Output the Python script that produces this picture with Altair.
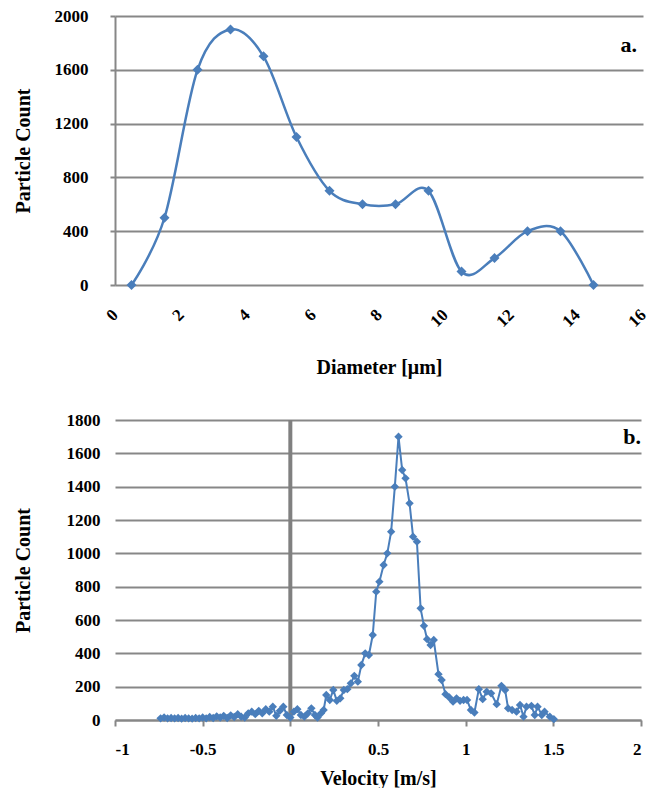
import altair as alt
import pandas as pd

# ---- data ----
diam = [0.5, 1.5, 2.5, 3.5, 4.5, 5.5, 6.5, 7.5, 8.5, 9.5, 10.5, 11.5, 12.5, 13.5, 14.5]
diam_count = [0, 500, 1600, 1900, 1700, 1100, 700, 600, 600, 700, 100, 200, 400, 400, 0]

vel = [-0.74, -0.72, -0.70, -0.68, -0.66, -0.64, -0.62, -0.60, -0.58, -0.56,
       -0.54, -0.52, -0.50, -0.48, -0.46, -0.44, -0.42, -0.40, -0.38, -0.36,
       -0.34, -0.32, -0.30, -0.28, -0.26, -0.24, -0.22, -0.20, -0.18, -0.16,
       -0.14, -0.12, -0.10, -0.08, -0.06, -0.04, -0.02, 0.00, 0.02, 0.04,
       0.06, 0.08, 0.10, 0.12, 0.14, 0.155, 0.175, 0.19, 0.205, 0.225,
       0.245, 0.265, 0.285, 0.305, 0.325, 0.345, 0.365, 0.385, 0.405, 0.427,
       0.448, 0.47, 0.49, 0.508, 0.532, 0.553, 0.575, 0.596, 0.617, 0.638,
       0.657, 0.68, 0.70, 0.722, 0.743, 0.762, 0.78, 0.80, 0.818, 0.845,
       0.863, 0.885, 0.907, 0.928, 0.948, 0.968, 0.988, 1.008, 1.03, 1.05,
       1.075, 1.097, 1.12, 1.145, 1.177, 1.204, 1.225, 1.242, 1.265, 1.29,
       1.31, 1.33, 1.347, 1.375, 1.394, 1.41, 1.434, 1.45, 1.48, 1.503]
vel_count = [10, 15, 10, 12, 10, 12, 8, 12, 10, 8,
             12, 10, 15, 10, 18, 12, 22, 15, 25, 12,
             28, 18, 35, 20, 15, 40, 50, 35, 55, 40,
             65, 50, 80, 25, 55, 80, 30, 15, 50, 65,
             30, 20, 40, 70, 30, 15, 40, 60, 150, 120,
             180, 115, 130, 180, 185, 220, 265, 230, 330, 400,
             390, 510, 770, 830, 930, 1000, 1130, 1400, 1700, 1500,
             1450, 1300, 1100, 1070, 670, 565, 485, 450, 480, 275,
             240, 155, 135, 110, 130, 115, 120, 120, 60, 45,
             185, 125, 170, 160, 95, 205, 180, 70, 60, 50,
             90, 20, 80, 85, 30, 80, 30, 50, 20, 5]

diam_ticks = [0, 2, 4, 6, 8, 10, 12, 14, 16]
count_ticks_a = [0, 400, 800, 1200, 1600, 2000]
vel_ticks = [-1, -0.5, 0, 0.5, 1, 1.5, 2]
count_ticks_b = [0, 200, 400, 600, 800, 1000, 1200, 1400, 1600, 1800]

FONT = "Liberation Serif"
BLUE = "#4A7EBB"
GRID = "#878787"

WA, HA = 528, 269
WB, HB = 526, 300

# ---- panel a ----
df_a = pd.DataFrame({"diameter": diam, "count_a": diam_count})
xa = alt.X("diameter:Q", scale=alt.Scale(domain=[0, 16], nice=False),
           axis=alt.Axis(values=diam_ticks, tickCount=20, title="Diameter [μm]", labelAngle=315,
                         labelAlign="right", labelBaseline="middle", labelPadding=27,
                         labelExpr="'' + datum.value", labelOverlap=False,
                         ticks=False, domain=False, grid=False, labelFont=FONT,
                         labelFontSize=17, labelFontWeight="bold", labelColor="black",
                         titleFont=FONT, titleFontSize=20, titleFontWeight="bold",
                         titleColor="black", titlePadding=28))
ya = alt.Y("count_a:Q", scale=alt.Scale(domain=[0, 2000], nice=False),
           axis=alt.Axis(values=count_ticks_a, tickCount=20, title="Particle Count", grid=True,
                         labelExpr="'' + datum.value", labelOverlap=False,
                         gridColor=GRID, gridWidth=2, domainColor=GRID, domainWidth=2,
                         tickColor=GRID, tickWidth=2, tickSize=5, labelPadding=22,
                         labelFont=FONT, labelFontSize=17, labelFontWeight="bold",
                         labelColor="black", titleFont=FONT, titleFontSize=20,
                         titleFontWeight="bold", titleColor="black", titlePadding=21))
line_a = alt.Chart(df_a).mark_line(color=BLUE, strokeWidth=2.5, interpolate="cardinal").encode(x=xa, y=ya)
pts_a = alt.Chart(df_a).mark_point(shape="diamond", filled=True, size=100, color=BLUE, opacity=1).encode(
    x="diameter:Q", y="count_a:Q")
txt_a = alt.Chart(pd.DataFrame({"t": ["a."]})).mark_text(
    font=FONT, fontSize=22, fontWeight="bold", align="right", baseline="middle", color="black"
).encode(text="t:N", x=alt.value(WA - 6), y=alt.value(29))
chart_a = alt.layer(line_a, pts_a, txt_a).properties(width=WA, height=HA)

# ---- panel b ----
df_b = pd.DataFrame({"velocity": vel, "count_b": vel_count})
xb = alt.X("velocity:Q", scale=alt.Scale(domain=[-1, 2], nice=False),
           axis=alt.Axis(values=vel_ticks, tickCount=20, title="Velocity [m/s]",
                         labelExpr="'' + datum.value", labelOverlap=False,
                         grid=False, domainColor=GRID, domainWidth=2, tickColor=GRID,
                         tickWidth=2, tickSize=6, labelPadding=15, labelFont=FONT,
                         labelFontSize=17, labelFontWeight="bold", labelColor="black",
                         titleFont=FONT, titleFontSize=20, titleFontWeight="bold",
                         titleColor="black", titlePadding=11))
yb = alt.Y("count_b:Q", scale=alt.Scale(domain=[0, 1800], nice=False),
           axis=alt.Axis(values=count_ticks_b, tickCount=20, title="Particle Count", grid=True,
                         labelExpr="'' + datum.value", labelOverlap=False,
                         gridColor=GRID, gridWidth=2, domain=False, ticks=False,
                         labelPadding=15, labelFont=FONT, labelFontSize=17,
                         labelFontWeight="bold", labelColor="black", titleFont=FONT,
                         titleFontSize=20, titleFontWeight="bold", titleColor="black",
                         titlePadding=33))
zero_rule = alt.Chart(pd.DataFrame({"zero": [0]})).mark_rule(color="#808080", strokeWidth=4).encode(x="zero:Q")
line_b = alt.Chart(df_b).mark_line(color=BLUE, strokeWidth=2).encode(x=xb, y=yb)
pts_b = alt.Chart(df_b).mark_point(shape="diamond", filled=True, size=70, color=BLUE, opacity=1).encode(
    x="velocity:Q", y="count_b:Q")
txt_b = alt.Chart(pd.DataFrame({"t": ["b."]})).mark_text(
    font=FONT, fontSize=22, fontWeight="bold", align="right", baseline="middle", color="black"
).encode(text="t:N", x=alt.value(WB), y=alt.value(17))
chart_b = alt.layer(line_b, zero_rule, pts_b, txt_b).properties(width=WB, height=HB)

chart = alt.concat(chart_a, chart_b, columns=1, spacing=33, align="none").properties(
    padding={"left": 5, "top": -1, "right": 0, "bottom": 0}, background="white"
).configure_view(stroke=None)

chart.save("out.html", embed_options={"renderer": "svg", "actions": False})
